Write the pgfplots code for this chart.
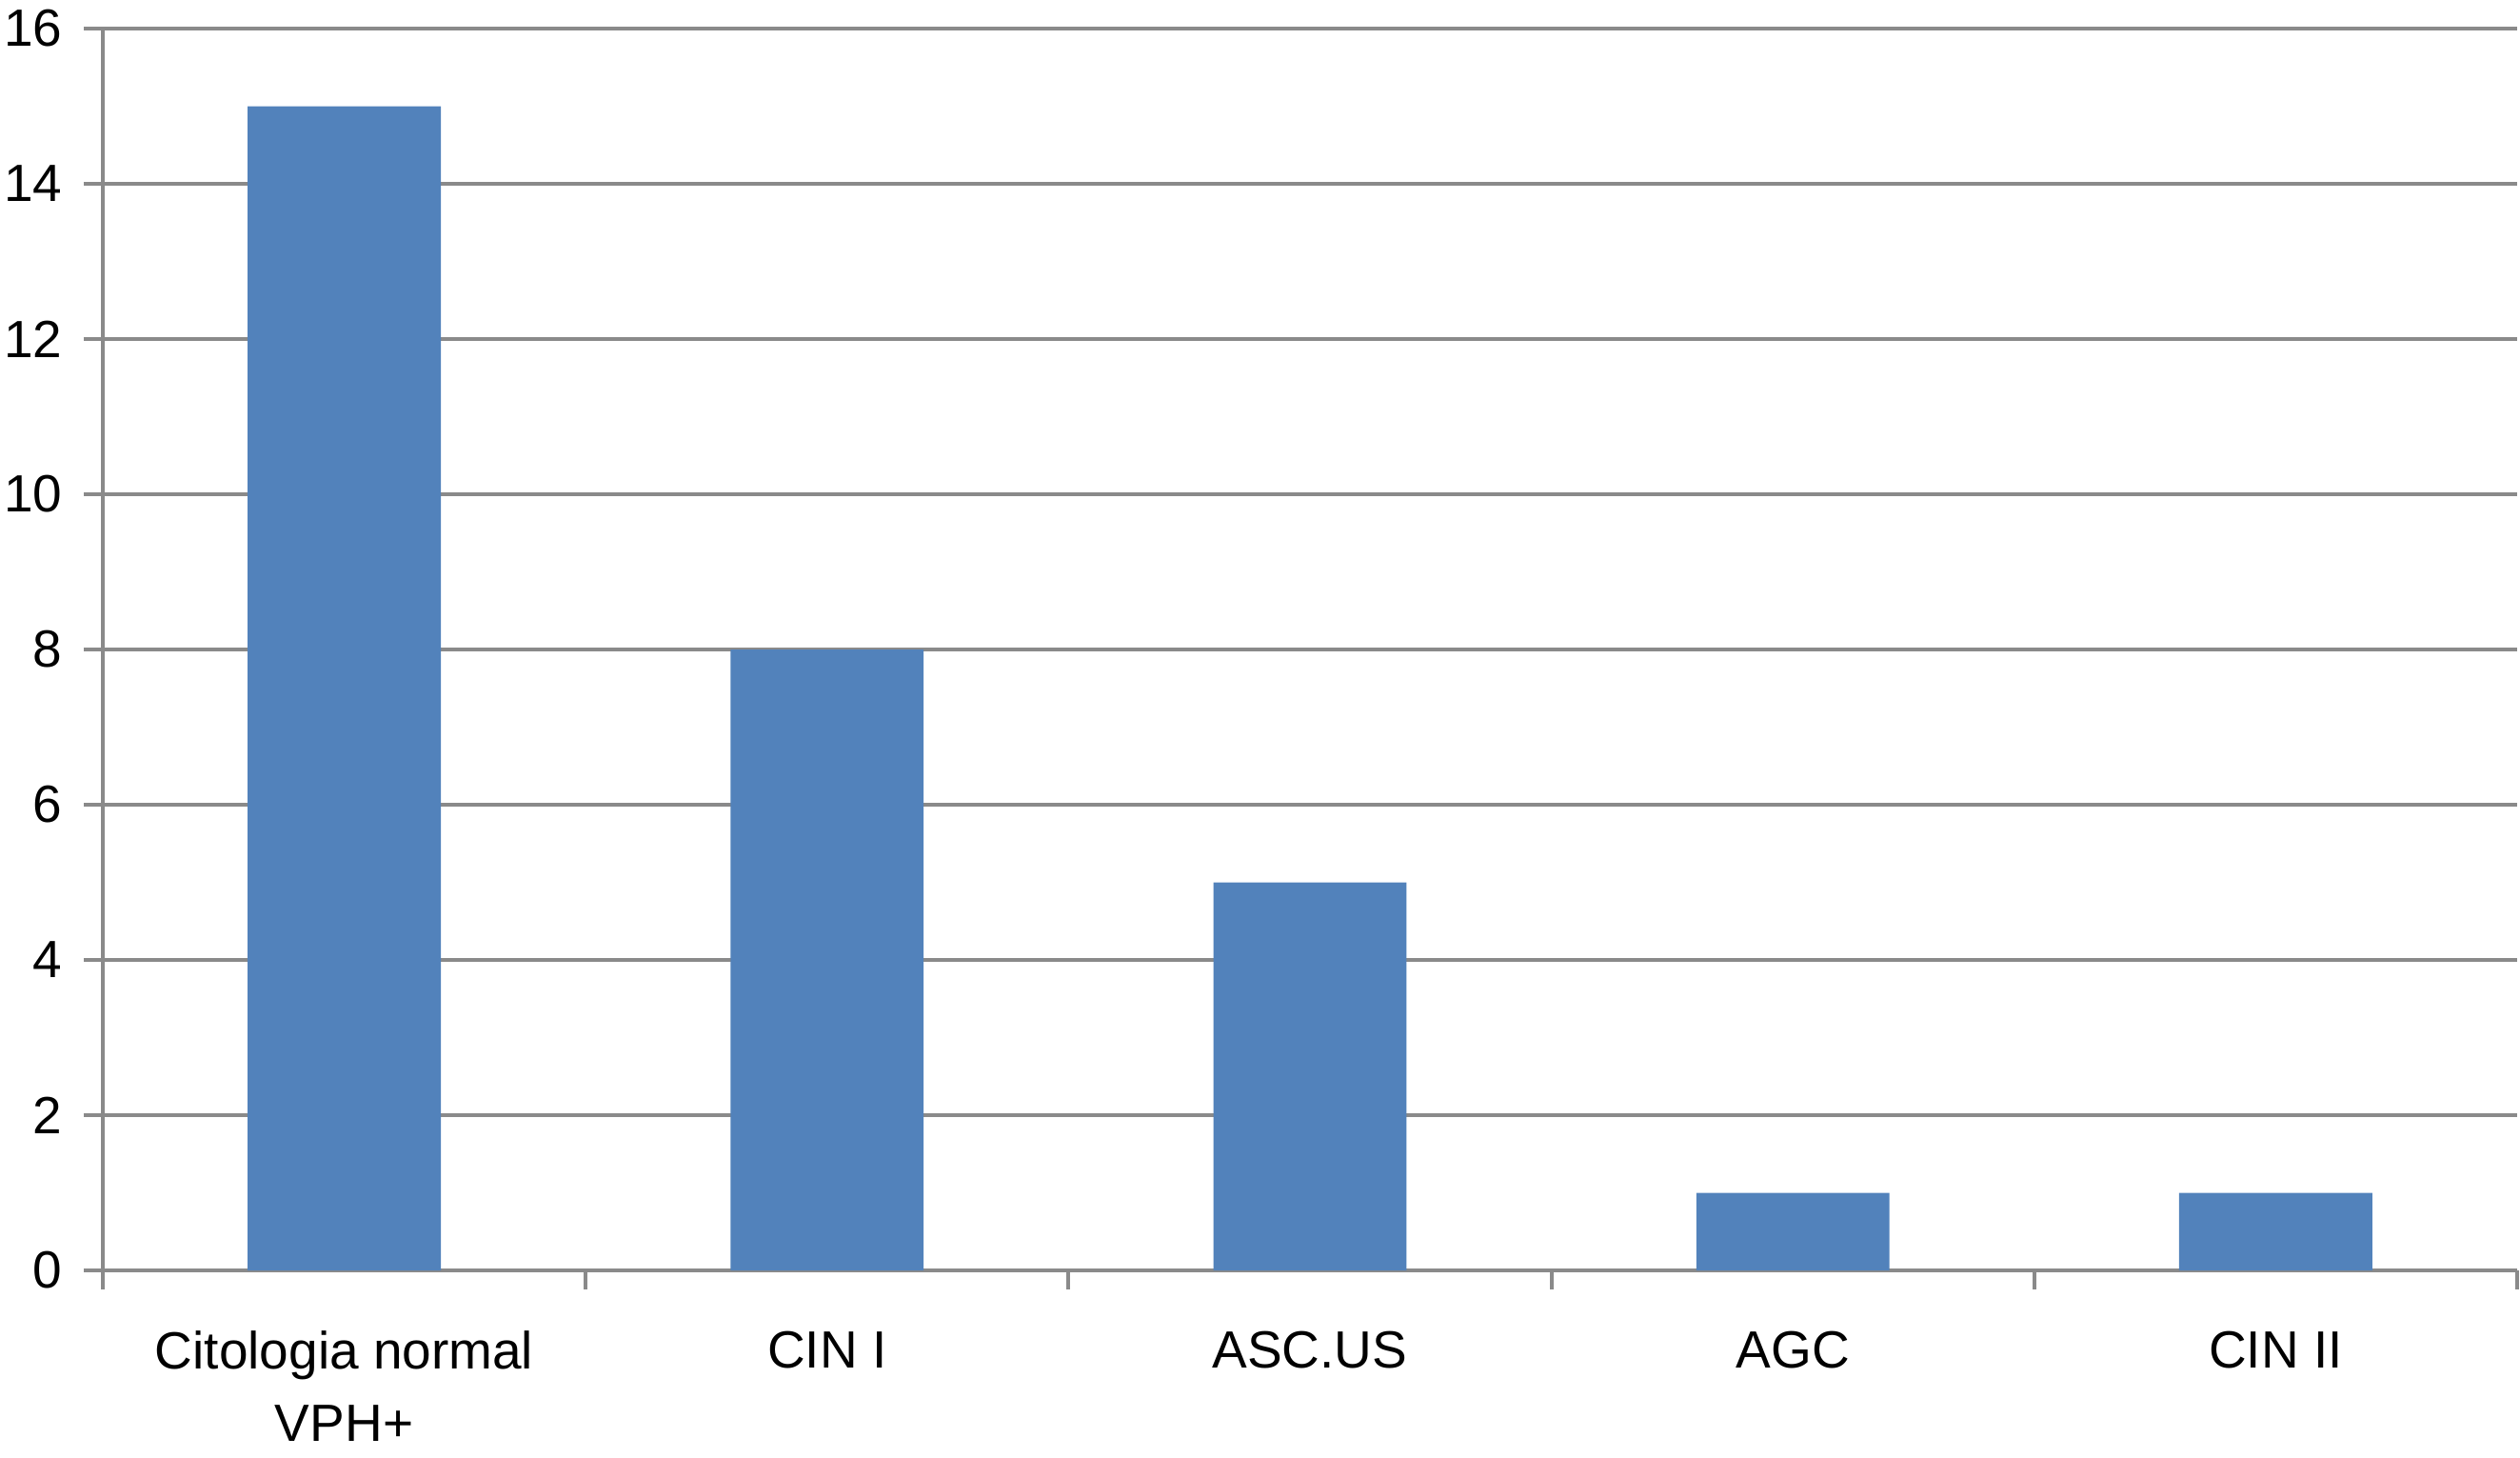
\documentclass[border=0pt]{standalone}
\usepackage{pgfplots}
\pgfplotsset{compat=1.18}
\usepackage{fontspec}
\setmainfont{Liberation Sans}
\definecolor{gridgray}{RGB}{138,138,138}
\definecolor{barblue}{RGB}{82,130,187}
\begin{document}
\begin{tikzpicture}
\begin{axis}[
  scale only axis,
  width=507.2pt, height=260.8pt,
  at={(0,0)}, anchor=south west,
  xmin=-0.5, xmax=4.5,
  ymin=0, ymax=16,
  axis lines*=left,
  axis line style={draw=gridgray, line width=0.8pt},
  ymajorgrids,
  grid style={draw=gridgray, line width=0.8pt},
  tick align=outside,
  major tick length=4pt,
  tick style={draw=gridgray, line width=0.8pt},
  ytick={0,2,...,16},
  xtick={-0.5,0.5,1.5,2.5,3.5,4.5},
  x tick label as interval,
  xticklabels={{Citologia normal\\VPH+},{CIN I},{ASC.US},{AGC},{CIN II}},
  xticklabel style={align=center, font=\fontsize{11}{15.2}\selectfont, yshift=-5.2pt},
  yticklabel style={font=\fontsize{11}{13}\selectfont, xshift=-1pt},
  /pgf/number format/assume math mode=true,
  clip=false,
]
\addplot[ybar, bar width=0.4, fill=barblue, draw=none] coordinates {(0,15) (1,8) (2,5) (3,1) (4,1)};
\end{axis}
\pgfresetboundingbox
\path[use as bounding box] (-21.6pt,-39.2pt) rectangle (507.8pt,266.8pt);
\end{tikzpicture}
\end{document}
